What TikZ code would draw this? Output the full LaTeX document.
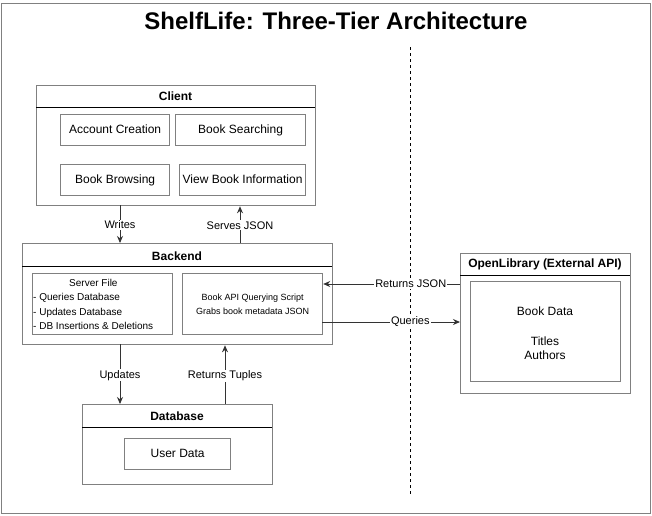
\documentclass[tikz,border=0pt]{standalone}
\usepackage{fontspec}
\setmainfont{Liberation Sans}
\usetikzlibrary{arrows.meta}
\definecolor{bordergray}{HTML}{808080}
\tikzset{
  box/.style={draw=bordergray, line width=1.3pt, anchor=north west, inner sep=0pt, fill=white},
  inbox/.style={draw=bordergray, line width=1.2pt, anchor=north west, inner sep=0pt, font=\fontsize{12}{14}\selectfont, align=center},
  oneline/.style={text height=8.7pt, text depth=2.5pt},
  hdr/.style={font=\bfseries\fontsize{12}{14}\selectfont},
  sep/.style={draw=black, line width=0.9pt},
  arr/.style={draw=black!80, line width=0.9pt, -{Stealth[length=7pt,width=6pt]}},
  lbl/.style={fill=white, inner sep=1pt, font=\fontsize{11}{13}\selectfont},
}
\begin{document}
\begin{tikzpicture}[x=1pt,y=-1pt]
\useasboundingbox (0,0) rectangle (652,515);
% outer frame
\node[box, minimum width=649pt, minimum height=510pt] (frame) at (1,3) {};
\node[font=\bfseries\fontsize{24}{28}\selectfont] (title) at (336,21) {ShelfLife: Three-Tier Architecture};
% dashed divider
\coordinate (d1) at (410,47);
\coordinate (d2) at (410,495);
\draw[black, line width=0.8pt, dashed, dash pattern=on 3pt off 3pt] (d1) -- (d2);

% Client
\node[box, minimum width=279pt, minimum height=120pt] (client) at (36,85) {};
\draw[sep] (36,107) -- (315,107);
\node[hdr] (clientt) at (175.5,96) {Client};
\node[inbox, oneline, minimum width=109pt, minimum height=31pt] (ac) at (60,114) {Account Creation};
\node[inbox, oneline, minimum width=130pt, minimum height=31pt] (bs) at (175,114) {Book Searching};
\node[inbox, oneline, minimum width=109pt, minimum height=31pt] (bb) at (60,164) {Book Browsing};
\node[inbox, oneline, minimum width=126pt, minimum height=31pt] (vb) at (179,164) {View Book Information};

% Backend
\node[box, minimum width=310pt, minimum height=101pt] (backend) at (22,243) {};
\draw[sep] (22,266) -- (332,266);
\node[hdr] (backendt) at (177,256) {Backend};
\node[inbox, minimum width=140pt, minimum height=61pt] (sf) at (32,273) {};
\node[font=\fontsize{10}{14.5}\selectfont, align=left, anchor=north west, inner sep=0pt] (sft) at (33,279) {\hspace*{36pt}Server File\\- Queries Database\\- Updates Database\\- DB Insertions \& Deletions};
\node[inbox, minimum width=140pt, minimum height=61pt, font=\fontsize{9}{14}\selectfont] (api) at (182,273) {Book API Querying Script\\Grabs book metadata JSON};

% Database
\node[box, minimum width=190pt, minimum height=80pt] (db) at (82,404) {};
\draw[sep] (82,427) -- (272,427);
\node[hdr] (dbt) at (177,416) {Database};
\node[inbox, oneline, minimum width=106pt, minimum height=31pt] (ud) at (124,438) {User Data};

% OpenLibrary
\node[box, minimum width=170pt, minimum height=140pt] (ol) at (460,253) {};
\draw[sep] (460,275) -- (630,275);
\node[hdr] (olt) at (545,264) {OpenLibrary (External API)};
\node[inbox, minimum width=150pt, minimum height=100pt] (bd) at (470,281) {};
\node[font=\fontsize{12}{14}\selectfont, align=center] (bdt1) at (545,311) {Book Data};
\node[font=\fontsize{12}{14}\selectfont, align=center] (bdt2) at (545,348) {Titles\\Authors};

% connectors
\coordinate (wtop) at (120,205);
\draw[arr] (wtop) -- node[lbl, pos=0.52] {Writes} (wtop |- backend.north);
\coordinate (sbot) at (240,243);
\draw[arr] (sbot) -- node[lbl, pos=0.48] {Serves JSON} (sbot |- client.south);
\coordinate (utop) at (120,344);
\draw[arr] (utop) -- node[lbl, pos=0.52] {Updates} (utop |- db.north);
\coordinate (rbot) at (225,404);
\draw[arr] (rbot) -- node[lbl, pos=0.48] {Returns Tuples} (rbot |- backend.south);
\coordinate (rj) at (460,284);
\draw[arr] (rj) -- node[lbl, pos=0.36] {Returns JSON} (rj -| api.east);
\coordinate (q1) at (322,322);
\draw[arr] (q1) -- node[lbl, pos=0.64] {Queries} (q1 -| ol.west);
\end{tikzpicture}
\end{document}
